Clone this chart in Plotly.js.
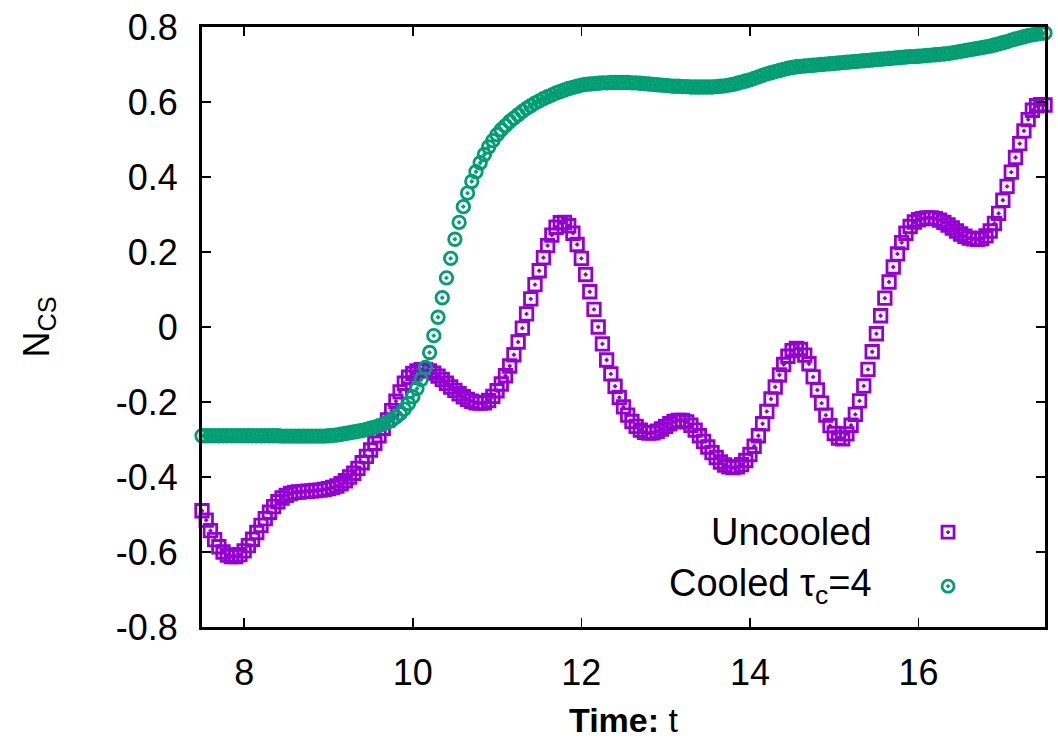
<!DOCTYPE html>
<html>
<head>
<meta charset="utf-8">
<script src="https://cdn.plot.ly/plotly-3.0.1.min.js"></script>
<style>html,body{margin:0;padding:0;background:#fff;}#chart{width:1058px;height:746px;}</style>
</head>
<body>
<div id="chart"></div>
<script>
// Time grid (t)
const time = [
7.50,7.55,7.60,7.65,7.70,7.75,7.80,7.85,7.90,7.95,
8.00,8.05,8.10,8.15,8.20,8.25,8.30,8.35,8.40,8.45,
8.50,8.55,8.60,8.65,8.70,8.75,8.80,8.85,8.90,8.95,
9.00,9.05,9.10,9.15,9.20,9.25,9.30,9.35,9.40,9.45,
9.50,9.55,9.60,9.65,9.70,9.75,9.80,9.85,9.90,9.95,
10.00,10.05,10.10,10.15,10.20,10.25,10.30,10.35,10.40,10.45,
10.50,10.55,10.60,10.65,10.70,10.75,10.80,10.85,10.90,10.95,
11.00,11.05,11.10,11.15,11.20,11.25,11.30,11.35,11.40,11.45,
11.50,11.55,11.60,11.65,11.70,11.75,11.80,11.85,11.90,11.95,
12.00,12.05,12.10,12.15,12.20,12.25,12.30,12.35,12.40,12.45,
12.50,12.55,12.60,12.65,12.70,12.75,12.80,12.85,12.90,12.95,
13.00,13.05,13.10,13.15,13.20,13.25,13.30,13.35,13.40,13.45,
13.50,13.55,13.60,13.65,13.70,13.75,13.80,13.85,13.90,13.95,
14.00,14.05,14.10,14.15,14.20,14.25,14.30,14.35,14.40,14.45,
14.50,14.55,14.60,14.65,14.70,14.75,14.80,14.85,14.90,14.95,
15.00,15.05,15.10,15.15,15.20,15.25,15.30,15.35,15.40,15.45,
15.50,15.55,15.60,15.65,15.70,15.75,15.80,15.85,15.90,15.95,
16.00,16.05,16.10,16.15,16.20,16.25,16.30,16.35,16.40,16.45,
16.50,16.55,16.60,16.65,16.70,16.75,16.80,16.85,16.90,16.95,
17.00,17.05,17.10,17.15,17.20,17.25,17.30,17.35,17.40,17.45,
17.50
];

// Uncooled N_CS
const uncooled = [
-0.490,-0.515,-0.543,-0.567,-0.586,-0.600,-0.608,-0.612,-0.612,-0.607,
-0.597,-0.583,-0.566,-0.548,-0.529,-0.511,-0.494,-0.479,-0.466,-0.456,
-0.449,-0.444,-0.441,-0.440,-0.439,-0.438,-0.437,-0.436,-0.435,-0.433,
-0.431,-0.428,-0.424,-0.418,-0.410,-0.400,-0.390,-0.377,-0.362,-0.345,
-0.328,-0.310,-0.290,-0.270,-0.248,-0.223,-0.198,-0.173,-0.150,-0.134,
-0.124,-0.117,-0.114,-0.114,-0.117,-0.123,-0.131,-0.140,-0.150,-0.160,
-0.169,-0.178,-0.186,-0.193,-0.198,-0.202,-0.203,-0.202,-0.196,-0.185,
-0.170,-0.152,-0.130,-0.104,-0.074,-0.040,-0.003,0.035,0.075,0.113,
0.150,0.185,0.217,0.245,0.266,0.278,0.279,0.270,0.250,0.220,
0.183,0.140,0.094,0.047,0.000,-0.045,-0.088,-0.125,-0.158,-0.188,
-0.213,-0.235,-0.252,-0.265,-0.275,-0.281,-0.283,-0.282,-0.278,-0.272,
-0.265,-0.258,-0.252,-0.249,-0.249,-0.253,-0.262,-0.275,-0.290,-0.305,
-0.320,-0.335,-0.348,-0.360,-0.368,-0.373,-0.375,-0.373,-0.367,-0.356,
-0.340,-0.318,-0.290,-0.258,-0.225,-0.192,-0.160,-0.128,-0.100,-0.078,
-0.063,-0.057,-0.060,-0.075,-0.098,-0.133,-0.168,-0.203,-0.235,-0.263,
-0.284,-0.296,-0.298,-0.285,-0.262,-0.233,-0.197,-0.157,-0.113,-0.066,
-0.018,0.030,0.077,0.120,0.160,0.195,0.225,0.250,0.268,0.280,
0.286,0.289,0.291,0.291,0.289,0.285,0.279,0.272,0.264,0.256,
0.248,0.242,0.237,0.235,0.234,0.236,0.243,0.256,0.276,0.303,
0.338,0.375,0.413,0.452,0.489,0.523,0.553,0.578,0.590,0.593,
0.592
];

// Cooled (tau_c = 4) N_CS
const cooled = [
-0.290,-0.290,-0.290,-0.290,-0.290,-0.290,-0.290,-0.290,-0.290,-0.290,
-0.290,-0.290,-0.290,-0.290,-0.290,-0.290,-0.290,-0.290,-0.290,-0.291,
-0.291,-0.291,-0.291,-0.291,-0.291,-0.291,-0.291,-0.291,-0.291,-0.291,
-0.290,-0.289,-0.288,-0.286,-0.284,-0.282,-0.280,-0.278,-0.276,-0.273,
-0.270,-0.267,-0.263,-0.259,-0.254,-0.248,-0.240,-0.231,-0.219,-0.204,
-0.186,-0.164,-0.140,-0.108,-0.068,-0.023,0.026,0.078,0.131,0.183,
0.234,0.279,0.321,0.357,0.388,0.414,0.438,0.460,0.480,0.497,
0.513,0.526,0.537,0.548,0.557,0.566,0.575,0.583,0.590,0.597,
0.603,0.609,0.614,0.619,0.624,0.628,0.632,0.636,0.639,0.642,
0.645,0.647,0.648,0.649,0.650,0.651,0.651,0.652,0.652,0.652,
0.652,0.652,0.651,0.651,0.650,0.649,0.648,0.647,0.646,0.645,
0.644,0.643,0.642,0.642,0.641,0.641,0.640,0.640,0.640,0.640,
0.640,0.640,0.641,0.642,0.643,0.645,0.647,0.650,0.653,0.656,
0.659,0.663,0.667,0.671,0.675,0.678,0.681,0.684,0.687,0.690,
0.692,0.694,0.695,0.696,0.697,0.698,0.699,0.700,0.701,0.702,
0.703,0.704,0.705,0.706,0.707,0.708,0.709,0.710,0.711,0.712,
0.713,0.714,0.715,0.716,0.717,0.718,0.719,0.720,0.721,0.721,
0.722,0.723,0.724,0.725,0.726,0.727,0.728,0.729,0.731,0.733,
0.735,0.737,0.739,0.741,0.743,0.745,0.747,0.749,0.752,0.755,
0.758,0.761,0.765,0.768,0.771,0.774,0.777,0.779,0.781,0.783,
0.784
];

const seriesNames = ['Uncooled', 'Cooled τ<sub>c</sub>=4'];
const xTickVals = [8, 10, 12, 14, 16];
const xTickText = ['8', '10', '12', '14', '16'];
const yTickVals = [-0.8, -0.6, -0.4, -0.2, 0, 0.2, 0.4, 0.6, 0.8];
const yTickText = ['-0.8', '-0.6', '-0.4', '-0.2', '0', '0.2', '0.4', '0.6', '0.8'];

const PURPLE = '#9400d3';
const GREEN = '#009e73';
const FONT = '"Liberation Sans", Arial, Helvetica, sans-serif';

const traces = [
  {
    x: time, y: uncooled, name: seriesNames[0], type: 'scatter', mode: 'markers',
    cliponaxis: false,
    marker: {symbol: 'square-open-dot', size: 12.5, color: PURPLE, line: {color: PURPLE, width: 2.8}}
  },
  {
    x: time, y: cooled, name: seriesNames[1], type: 'scatter', mode: 'markers',
    cliponaxis: false,
    marker: {symbol: 'circle-open-dot', size: 12.5, color: GREEN, line: {color: GREEN, width: 2.8}}
  }
];

const axisCommon = {
  showgrid: false, zeroline: false,
  showline: true, linecolor: '#000', linewidth: 3, mirror: 'allticks',
  ticks: 'inside', ticklen: 9, tickwidth: 1.5, tickcolor: '#000',
  tickfont: {family: FONT, size: 36, color: '#000'},
  fixedrange: true
};

const legX = 0.885, legTextX = 0.797;
const legY = [0.158, 0.068];

const layout = {
  width: 1058, height: 746,
  margin: {l: 202, r: 13, t: 27, b: 119},
  paper_bgcolor: '#fff', plot_bgcolor: '#fff',
  showlegend: false,
  font: {family: FONT, color: '#000'},
  xaxis: Object.assign({}, axisCommon, {
    range: [7.5, 17.5], tickmode: 'array', tickvals: xTickVals, ticktext: xTickText,
    ticklabelstandoff: 12,
    title: {text: '<b>Time:</b> t', font: {family: FONT, size: 34, color: '#000'}, standoff: 16}
  }),
  yaxis: Object.assign({}, axisCommon, {
    range: [-0.8, 0.8], tickmode: 'array', tickvals: yTickVals, ticktext: yTickText,
    ticklabelstandoff: 14,
    title: {text: 'N<sub>CS</sub>', font: {family: FONT, size: 36, color: '#000'}, standoff: 56}
  }),
  annotations: [
    {xref: 'paper', yref: 'paper', x: legTextX, y: legY[0], xanchor: 'right', yanchor: 'middle',
     text: seriesNames[0], showarrow: false, font: {family: FONT, size: 38, color: '#000'}},
    {xref: 'paper', yref: 'paper', x: legTextX, y: legY[1], xanchor: 'right', yanchor: 'middle',
     text: seriesNames[1], showarrow: false, font: {family: FONT, size: 38, color: '#000'}}
  ],
  shapes: [
    {type: 'rect', xref: 'paper', yref: 'paper', xsizemode: 'pixel', ysizemode: 'pixel',
     xanchor: legX, yanchor: legY[0], x0: -6, x1: 6, y0: -6, y1: 6,
     line: {color: PURPLE, width: 2.8}},
    {type: 'circle', xref: 'paper', yref: 'paper', xsizemode: 'pixel', ysizemode: 'pixel',
     xanchor: legX, yanchor: legY[0], x0: -1.4, x1: 1.4, y0: -1.4, y1: 1.4,
     line: {color: PURPLE, width: 1}, fillcolor: PURPLE},
    {type: 'circle', xref: 'paper', yref: 'paper', xsizemode: 'pixel', ysizemode: 'pixel',
     xanchor: legX, yanchor: legY[1], x0: -6, x1: 6, y0: -6, y1: 6,
     line: {color: GREEN, width: 2.8}},
    {type: 'circle', xref: 'paper', yref: 'paper', xsizemode: 'pixel', ysizemode: 'pixel',
     xanchor: legX, yanchor: legY[1], x0: -1.4, x1: 1.4, y0: -1.4, y1: 1.4,
     line: {color: GREEN, width: 1}, fillcolor: GREEN}
  ]
};

Plotly.newPlot('chart', traces, layout, {displayModeBar: false, staticPlot: true});
</script>
</body>
</html>
